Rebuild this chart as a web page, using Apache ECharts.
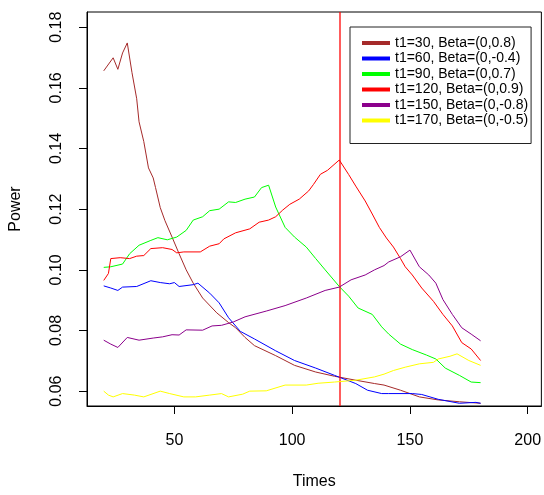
<!DOCTYPE html>
<html>
<head>
<meta charset="utf-8">
<script src="https://cdn.jsdelivr.net/npm/echarts@6/dist/echarts.min.js"></script>
<style>
html,body{margin:0;padding:0;background:#fff;}
#chart{width:544px;height:495px;}
</style>
</head>
<body>
<div id="chart"></div>
<script>
// ---- data ----
var names = ["t1=30, Beta=(0,0.8)", "t1=60, Beta=(0,-0.4)", "t1=90, Beta=(0,0.7)",
             "t1=120, Beta=(0,0.9)", "t1=150, Beta=(0,-0.8)", "t1=170, Beta=(0,-0.5)"];
var colors = ["#A52A2A", "#0000FF", "#00FF00", "#FF0000", "#8B008B", "#FFFF00"];

var times1 = [20, 24, 26, 28, 30, 32, 34, 35, 37, 39, 41, 42, 44, 46, 49, 52, 55, 58, 62, 68, 73, 76, 80, 84, 93, 101, 110, 118, 127, 135, 139, 146, 154, 162, 171, 180];
var power1 = [.1656, .1699, .1661, .1715, .1748, .1650, .1564, .1488, .1423, .1336, .1303, .1271, .1205, .1162, .1108, .1053, .1000, .0956, .0907, .0858, .0826, .0809, .0777, .0750, .0717, .0685, .0663, .0649, .0636, .0625, .0620, .0603, .0581, .0571, .0565, .0560];

var times2 = [20, 23, 26, 28, 34, 40, 44, 48, 50, 52, 58, 60, 65, 69, 73, 78, 84, 93, 101, 110, 118, 127, 132, 138, 141, 151, 155, 162, 171, 178, 180];
var power2 = [.0947, .0940, .0932, .0943, .0945, .0964, .0958, .0954, .0958, .0945, .0951, .0956, .0923, .0891, .0842, .0797, .0772, .0733, .0701, .0676, .0652, .0625, .0603, .0592, .0592, .0592, .0589, .0573, .0560, .0563, .0560];

var times3 = [20, 23, 28, 31, 35, 40, 43, 47, 51, 55, 58, 62, 65, 69, 73, 76, 80, 84, 87, 90, 93, 97, 101, 106, 110, 114, 120, 124, 128, 134, 138, 141, 146, 151, 157, 161, 165, 171, 176, 180];
var power3 = [.1008, .1010, .1019, .1053, .1081, .1097, .1106, .1099, .1108, .1130, .1164, .1175, .1195, .1200, .1224, .1222, .1233, .1240, .1271, .1279, .1207, .1140, .1108, .1075, .1037, .1000, .0945, .0913, .0874, .0853, .0812, .0788, .0755, .0737, .0719, .0706, .0676, .0652, .0630, .0628];

var times4 = [20, 22, 23, 27, 31, 34, 37, 40, 45, 49, 51, 54, 61, 65, 69, 71, 76, 82, 86, 90, 93, 96, 99, 103, 107, 109, 112, 115, 120, 124, 127, 131, 134, 137, 140, 143, 146, 148, 151, 155, 160, 164, 168, 172, 176, 180];
var power4 = [.0965, .0988, .1037, .1040, .1037, .1045, .1047, .1070, .1073, .1067, .1056, .1059, .1059, .1078, .1086, .1102, .1122, .1135, .1157, .1164, .1175, .1197, .1216, .1233, .1260, .1281, .1315, .1328, .1362, .1314, .1276, .1227, .1184, .1140, .1105, .1075, .1037, .1010, .0983, .0940, .0896, .0853, .0815, .0760, .0739, .0701];

var times5 = [20, 23, 26, 30, 35, 41, 45, 49, 52, 55, 62, 66, 70, 75, 80, 89, 97, 106, 114, 120, 125, 131, 135, 139, 141, 146, 150, 154, 158, 161, 164, 168, 172, 176, 180];
var power5 = [.0768, .0755, .0744, .0777, .0768, .0775, .0779, .0786, .0785, .0802, .0801, .0815, .0817, .0828, .0845, .0864, .0882, .0907, .0932, .0943, .0967, .0983, .1000, .1014, .1026, .1043, .1065, .1010, .0983, .0956, .0902, .0853, .0809, .0788, .0766];

var times6 = [20, 22, 24, 28, 33, 37, 44, 48, 54, 59, 65, 70, 73, 79, 82, 89, 97, 106, 111, 118, 127, 135, 139, 143, 148, 154, 160, 162, 167, 170, 175, 180];
var power6 = [.0600, .0587, .0581, .0592, .0587, .0581, .0600, .0592, .0581, .0581, .0587, .0592, .0581, .0590, .0600, .0601, .0620, .0620, .0626, .0630, .0636, .0647, .0656, .0668, .0679, .0690, .0695, .0706, .0715, .0723, .0701, .0685];

var xTicks = [50, 100, 150, 200];
var yTicks = [0.06, 0.08, 0.10, 0.12, 0.14, 0.16, 0.18];
var vLineAt = 120;

// ---- chart ----
var allTimes = [times1, times2, times3, times4, times5, times6];
var allPower = [power1, power2, power3, power4, power5, power6];
function pairs(t, v) { return t.map(function (x, i) { return [x, v[i]]; }); }

var FONT = '"Liberation Sans", Arial, sans-serif';
var series = names.map(function (n, i) {
  return {
    name: n, type: 'line', data: pairs(allTimes[i], allPower[i]),
    showSymbol: false, symbol: 'none', color: colors[i],
    lineStyle: { width: 1, color: colors[i] }, silent: true, z: 2 + i
  };
});
series.push({
  type: 'line', data: [], silent: true, z: 10,
  markLine: {
    silent: true, symbol: 'none', label: { show: false },
    lineStyle: { color: 'rgba(255,0,0,0.8)', width: 1.6, type: 'solid' },
    data: [{ xAxis: vLineAt }]
  }
});

var chart = echarts.init(document.getElementById('chart'), null, { renderer: 'canvas' });
chart.setOption({
  animation: false,
  backgroundColor: '#fff',
  textStyle: { fontFamily: FONT },
  grid: { left: 85, top: 12, width: 458, height: 399, show: true, borderColor: '#000', borderWidth: 1, backgroundColor: 'transparent' },
  xAxis: {
    type: 'value', min: 12.9, max: 205.8,
    name: 'Times', nameLocation: 'middle', nameGap: 68,
    nameTextStyle: { fontSize: 16, color: '#000', fontFamily: FONT },
    axisLine: { show: true, lineStyle: { color: '#000' } },
    axisTick: { show: true, length: 8, customValues: xTicks, lineStyle: { color: '#000' } },
    axisLabel: { customValues: xTicks, fontSize: 16, color: '#000', margin: 27, fontFamily: FONT },
    splitLine: { show: false }
  },
  yAxis: {
    type: 'value', min: 0.0551, max: 0.185,
    name: 'Power', nameLocation: 'middle', nameGap: 63,
    nameTextStyle: { fontSize: 16, color: '#000', fontFamily: FONT },
    axisLine: { show: true, lineStyle: { color: '#000' } },
    axisTick: { show: true, length: 8, customValues: yTicks, lineStyle: { color: '#000' } },
    axisLabel: { customValues: yTicks, fontSize: 16, color: '#000', margin: 22, rotate: 90, fontFamily: FONT,
      formatter: function (v) { return v.toFixed(2); } },
    splitLine: { show: false }
  },
  legend: {
    data: names, orient: 'vertical', left: 350, top: 27,
    padding: [9, 3, 16, 12], itemWidth: 28, itemHeight: 4, itemGap: 1.5, icon: 'rect',
    borderColor: '#222', borderWidth: 1, backgroundColor: '#fff',
    textStyle: { fontSize: 14, color: '#000', fontFamily: FONT, lineHeight: 14 },
    selectedMode: false
  },
  series: series
});
</script>
</body>
</html>
